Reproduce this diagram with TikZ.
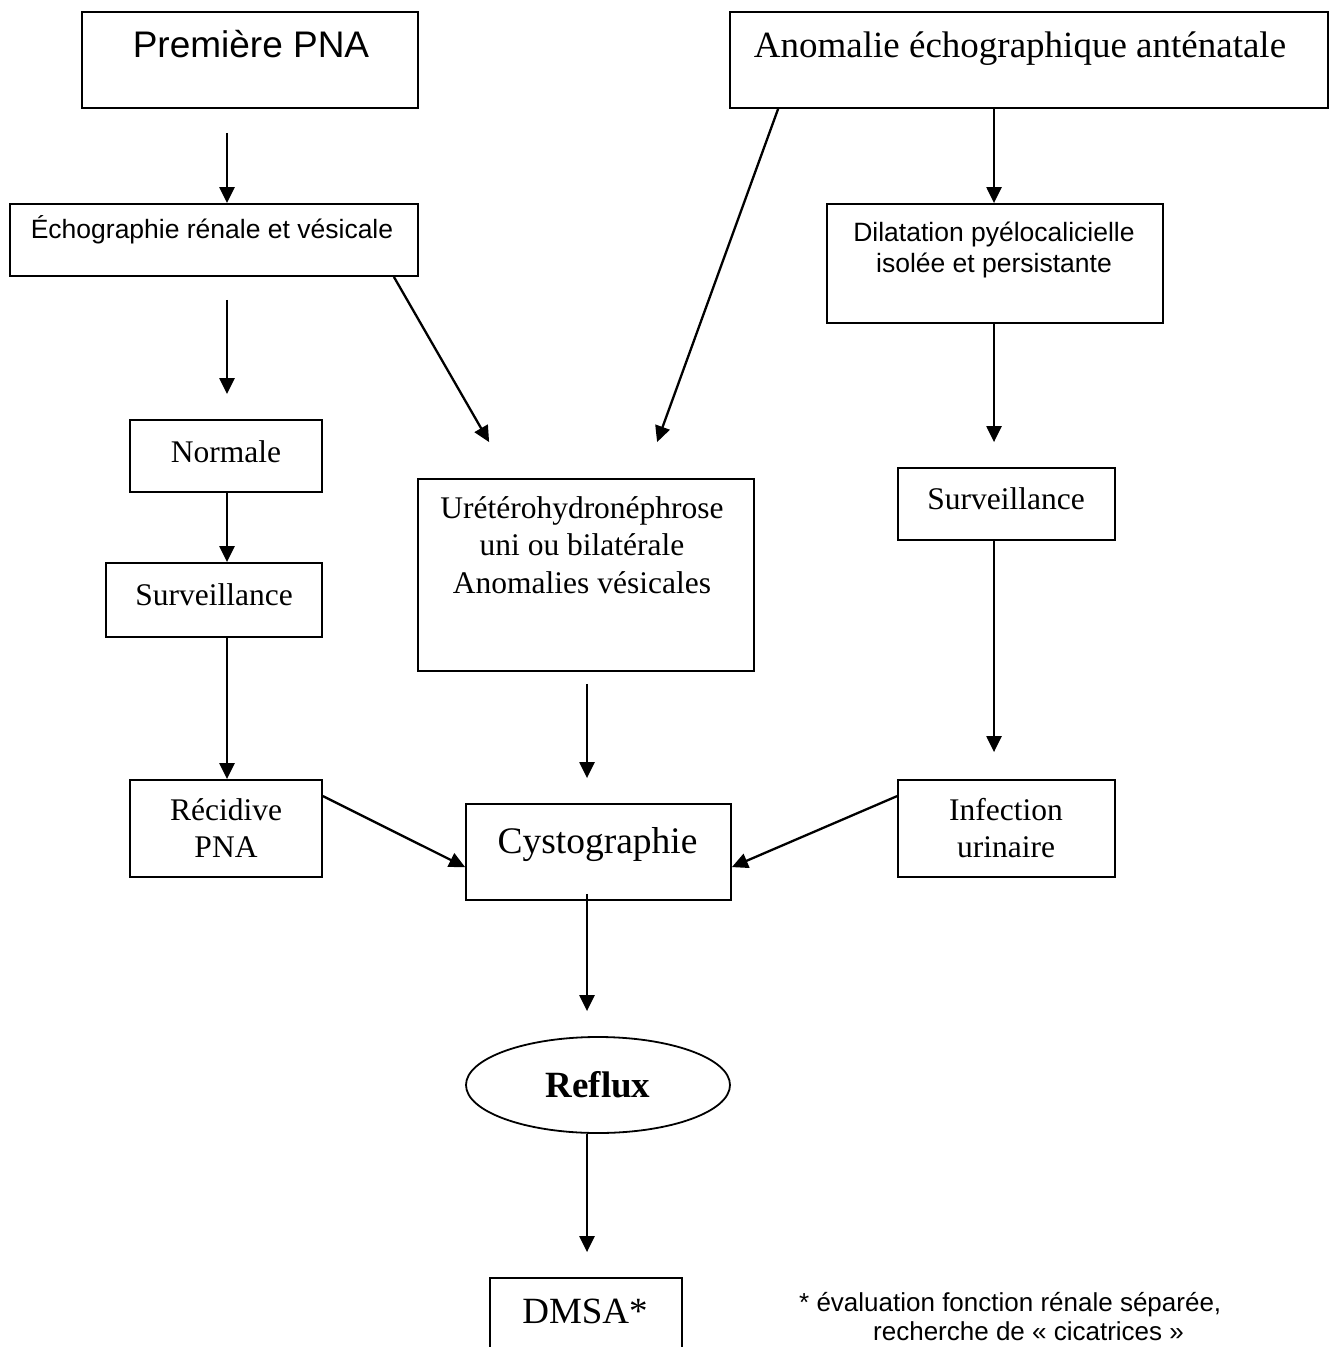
\documentclass[tikz,border=0pt]{standalone}
\usepackage{fontspec}
\setmainfont{Liberation Serif}
\newfontfamily\arialf{Liberation Sans}
\usetikzlibrary{arrows.meta,shapes.geometric}
\begin{document}
\begin{tikzpicture}[x=1pt,y=-1pt,
  box/.style={draw,line width=1.8pt,rectangle,inner sep=0pt},
  arr/.style={line width=2.3pt,-{Triangle[length=16pt,width=15pt]}},
  txt/.style={anchor=base,inner sep=0pt},
  bigsans/.style={font=\arialf\fontsize{37}{44}\selectfont},
  smallsans/.style={font=\arialf\fontsize{26.5}{31}\selectfont},
  bigserif/.style={font=\fontsize{37}{44}\selectfont},
  midserif/.style={font=\fontsize{31.5}{37}\selectfont},
  footsans/.style={font=\arialf\fontsize{26}{30}\selectfont}
]
\fill[white] (0,0) rectangle (1331,1347);
\useasboundingbox (0,0) rectangle (1331,1347);

% column coordinates
\coordinate (colA) at (227,0);
\coordinate (colB) at (587,0);
\coordinate (colC) at (994,0);

% boxes
\node[box,minimum width=336pt,minimum height=96pt] (pna) at (250,60) {};
\node[box,minimum width=598pt,minimum height=96pt] (ano) at (1029,60) {};
\node[box,minimum width=408pt,minimum height=72pt] (echo) at (214,240) {};
\node[box,minimum width=336pt,minimum height=119pt] (dil) at (995,263.5) {};
\node[box,minimum width=192pt,minimum height=72pt] (norm) at (226,456) {};
\node[box,minimum width=216pt,minimum height=74pt] (surv) at (214,600) {};
\node[box,minimum width=336pt,minimum height=192pt] (ure) at (586,575) {};
\node[box,minimum width=217pt,minimum height=72pt] (survR) at (1006.5,504) {};
\node[box,minimum width=192pt,minimum height=97pt] (rec) at (226,828.5) {};
\node[box,minimum width=217pt,minimum height=97pt] (inf) at (1006.5,828.5) {};
\node[box,minimum width=265pt,minimum height=96pt] (cys) at (598.5,852) {};
\node[draw,line width=1.8pt,ellipse,inner sep=0pt,minimum width=264pt,minimum height=96pt,
      font=\bfseries\fontsize{37}{44}\selectfont] (reflux) at (598,1085) {Reflux};
\node[box,minimum width=192pt,minimum height=122pt] (dmsa) at (586,1339) {};

% texts
\node[txt,bigsans] (tpna) at (251,57) {Première PNA};
\node[txt,bigserif] (tano) at (1020,57) {Anomalie échographique anténatale};
\node[txt,smallsans] (techo) at (212,238) {Échographie rénale et vésicale};
\node[txt,smallsans] (tdil1) at (994,241) {Dilatation pyélocalicielle};
\node[txt,smallsans] (tdil2) at (994,272) {isolée et persistante};
\node[txt,midserif] (tnorm) at (226,462) {Normale};
\node[txt,midserif] (tsurv) at (214,605) {Surveillance};
\node[txt,midserif] (ture1) at (582,518) {Urétérohydronéphrose};
\node[txt,midserif] (ture2) at (582,555) {uni ou bilatérale};
\node[txt,midserif] (ture3) at (582,593) {Anomalies vésicales};
\node[txt,midserif] (tsurvR) at (1006,509) {Surveillance};
\node[txt,midserif] (trec1) at (226,820) {Récidive};
\node[txt,midserif] (trec2) at (226,857) {PNA};
\node[txt,midserif] (tinf1) at (1006,820) {Infection};
\node[txt,midserif] (tinf2) at (1006,857) {urinaire};
\node[txt,font=\fontsize{37.5}{44}\selectfont] (tcys) at (597.5,853) {Cystographie};
\node[txt,bigserif] (tdmsa) at (585,1323) {DMSA*};
\node[txt,footsans,anchor=base west] (foot1) at (799,1311) {* évaluation fonction rénale séparée,};
\node[txt,footsans,anchor=base west] (foot2) at (873,1340) {recherche de «~cicatrices~»};

% connectors
\draw[arr,shorten <=24pt] (pna.south -| colA) -- (echo.north -| colA);
\draw[arr,shorten <=23pt,shorten >=25pt] (echo.south -| colA) -- (norm.north -| colA);
\draw[arr] (norm.south -| colA) -- (surv.north -| colA);
\draw[arr] (surv.south -| colA) -- (rec.north -| colA);
\draw[arr] ([xshift=-25pt]echo.south east) -- ([xshift=72pt,yshift=36pt]ure.north west);
\draw[arr] ([xshift=49pt]ano.south west) -- ([xshift=240pt,yshift=36pt]ure.north west);
\draw[arr] (ano.south -| colC) -- (dil.north -| colC);
\draw[arr,shorten >=25pt] (dil.south -| colC) -- (survR.north -| colC);
\draw[arr,shorten >=27pt] (survR.south -| colC) -- (inf.north -| colC);
\draw[arr,shorten <=12pt,shorten >=25pt] (ure.south -| colB) -- (cys.north -| colB);
\draw[arr] ([yshift=-17pt]rec.north east) -- ([yshift=-64pt]cys.north west);
\draw[arr] ([yshift=-17pt]inf.north west) -- ([yshift=-64pt]cys.north east);
\draw[arr,shorten <=-7pt,shorten >=25pt] (cys.south -| colB) -- (reflux.north -| colB);
\draw[arr,shorten >=25pt] (reflux.south -| colB) -- (dmsa.north -| colB);
\end{tikzpicture}
\end{document}
